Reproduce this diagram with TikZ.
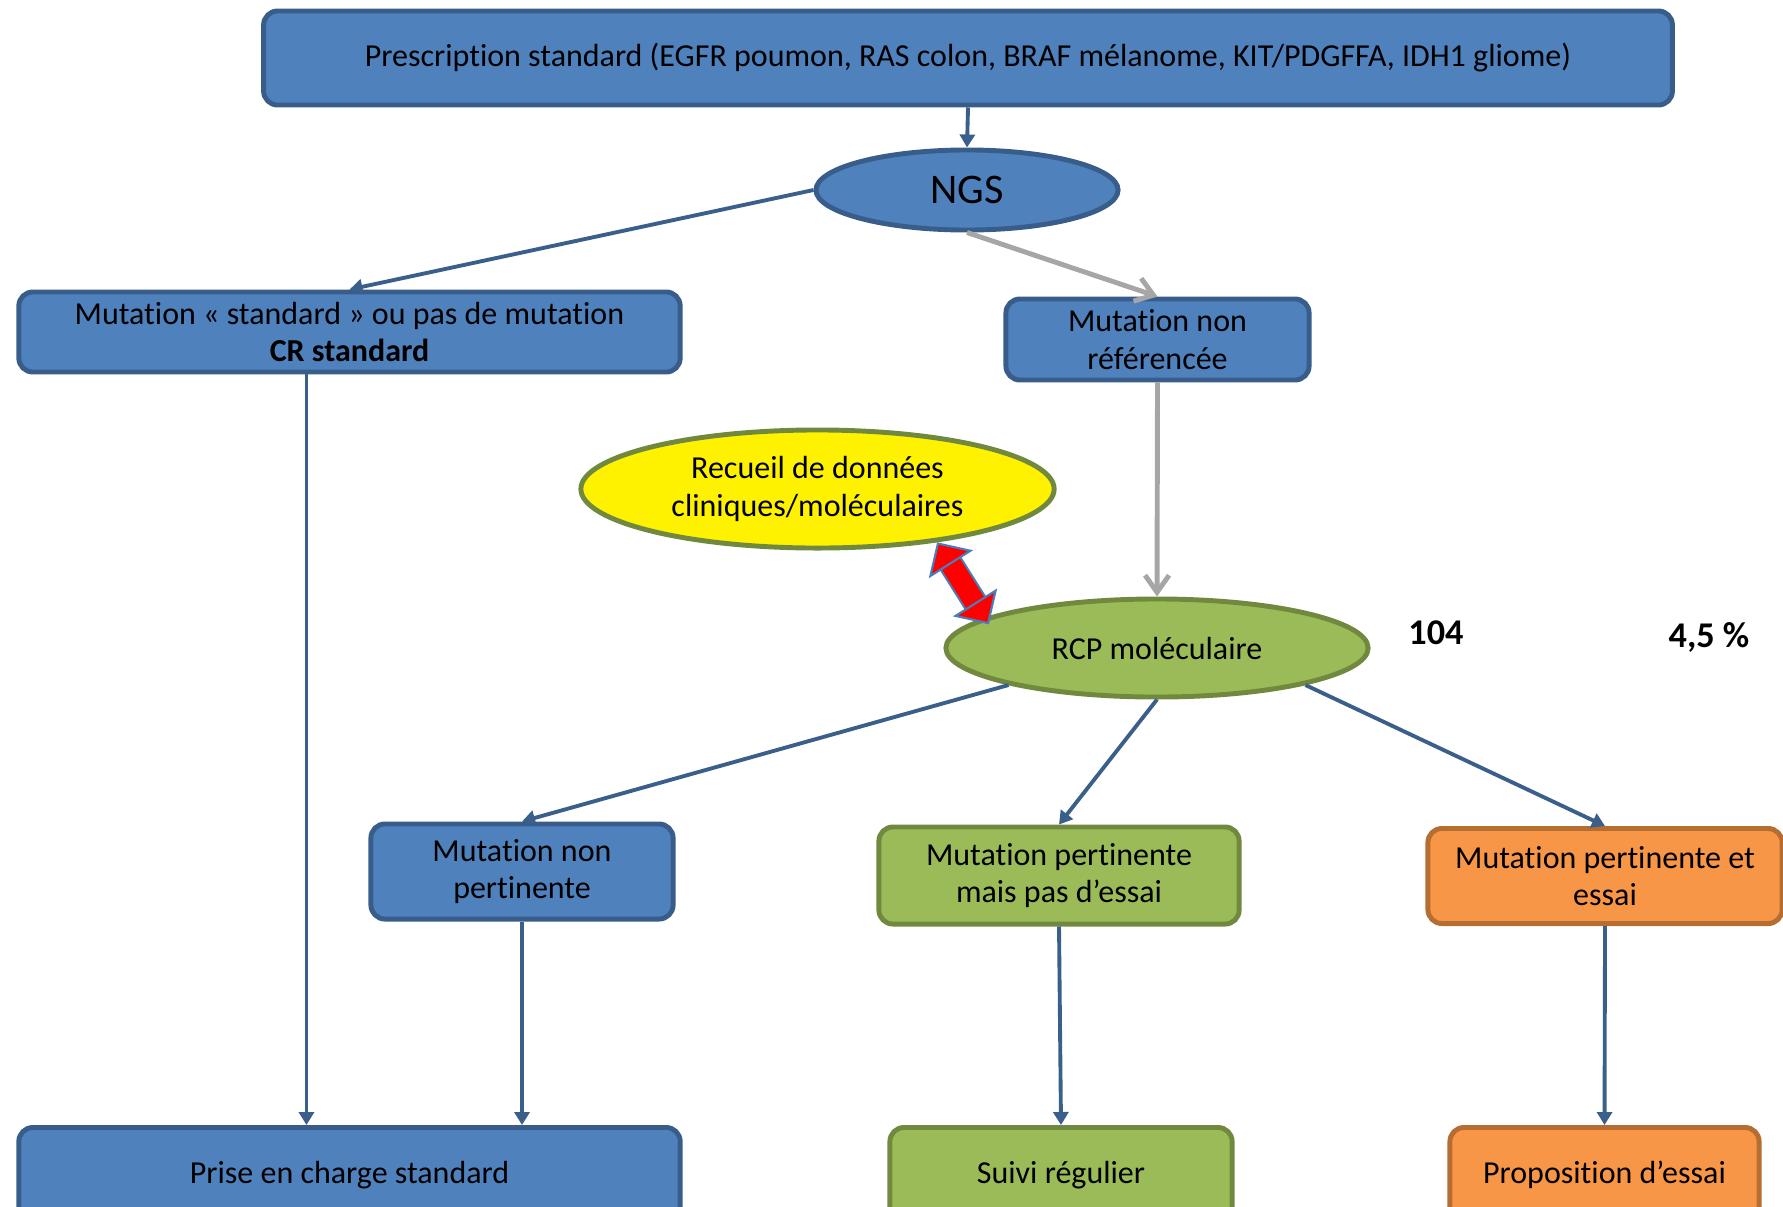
\documentclass[tikz,border=0pt]{standalone}
\usepackage{fontspec}
\setmainfont{Carlito}[Ligatures={NoCommon,NoContextual},RawFeature=-calt]
\usetikzlibrary{arrows.meta,shapes.geometric}
\definecolor{bfill}{HTML}{4F81BD}
\definecolor{bdraw}{HTML}{385D8A}
\definecolor{gfill}{HTML}{9BBB59}
\definecolor{gdraw}{HTML}{71893F}
\definecolor{ofill}{HTML}{F79646}
\definecolor{odraw}{HTML}{B66D31}
\definecolor{aline}{HTML}{3A5F8B}
\definecolor{gline}{HTML}{A6A6A6}
\definecolor{rline}{HTML}{4A7EBB}
\begin{document}
\begin{tikzpicture}[x=0.01cm,y=-0.01cm,
    box/.style={rounded corners=0.14cm,line width=1.4pt,inner sep=0pt,align=center},
    bbox/.style={box,fill=bfill,draw=bdraw},
    gbox/.style={box,fill=gfill,draw=gdraw},
    obox/.style={box,fill=ofill,draw=odraw},
    ell/.style={ellipse,line width=1.4pt,inner sep=0pt,align=center},
    arr/.style={-{Triangle[length=0.13cm,width=0.15cm]},line width=1.1pt,aline},
    garr/.style={-{Straight Barb[length=0.17cm,width=0.24cm]},line width=1.4pt,gline},
    redarr/.style={draw=rline,line width=0.6pt,double=red,double distance=0.21cm,shorten >=-0.08cm,
      {Triangle[length=0.26cm,width=0.52cm,fill=red]}-{Triangle[length=0.26cm,width=0.52cm,fill=red]}},
    num/.style={font=\fontsize{10.3}{12}\selectfont\bfseries},
    every node/.style={font=\fontsize{9.1}{10.6}\selectfont}]
  \useasboundingbox (0,0) rectangle (1783,1206);
  \clip (0,0) rectangle (1783,1206);
  % top
  \node[bbox,minimum width=14.08cm,minimum height=0.94cm] (presc) at (968,58)
    {Prescription standard (EGFR poumon, RAS colon, BRAF mélanome, KIT/PDGFFA, IDH1 gliome)};
  \node[ell,fill=bfill,draw=bdraw,minimum width=3.02cm,minimum height=0.8cm,
    font=\fontsize{12}{14}\selectfont] (ngs) at (967,190) {NGS};
  \node[bbox,minimum width=6.61cm,minimum height=0.8cm] (mstd) at (349.5,332)
    {Mutation « standard » ou pas de mutation\\\textbf{CR standard}};
  \node[bbox,minimum width=3.03cm,minimum height=0.81cm] (mnr) at (1157.5,339.5)
    {Mutation non\\référencée};
  % middle
  \node[ell,fill=yellow,draw=gdraw,minimum width=4.73cm,minimum height=1.18cm] (recueil)
    at (817.5,489) {Recueil de données\\cliniques/moléculaires};
  \node[ell,fill=gfill,draw=gdraw,minimum width=4.22cm,minimum height=0.98cm] (rcp)
    at (1157,648) {RCP moléculaire};
  \node[num] (n104) at (1436,633) {104};
  \node[num] (pct) at (1709,637) {4,5 \%};
  \node[bbox,minimum width=3.02cm,minimum height=0.95cm] (mnp) at (522,871.5)
    {Mutation non\\pertinente};
  \node[gbox,minimum width=3.6cm,minimum height=0.97cm] (mpp) at (1059,875.5)
    {Mutation pertinente\\mais pas d’essai};
  \node[obox,minimum width=3.54cm,minimum height=0.95cm] (mpe) at (1605,876)
    {Mutation pertinente et\\essai};
  % bottom
  \node[bbox,minimum width=6.61cm,minimum height=0.95cm] (prise) at (349.5,1175)
    {Prise en charge standard};
  \node[gbox,minimum width=3.42cm,minimum height=0.95cm] (suivi) at (1061,1175)
    {Suivi régulier};
  \node[obox,minimum width=3.09cm,minimum height=0.95cm] (prop) at (1604.5,1175)
    {Proposition d’essai};
  % connectors
  \draw[arr] (presc.south) -- (ngs.north);
  \draw[arr] (ngs.west) -- (mstd.north);
  \draw[garr] (ngs.south) -- (mnr.north);
  \draw[garr] (mnr.south) -- (rcp.north);
  \draw[redarr] (recueil.-24) -- (rcp.170);
  \draw[arr] ([xshift=-0.43cm]mstd.south) -- ([xshift=-0.43cm]prise.north);
  \draw[arr] (rcp.194) -- (mnp.north);
  \draw[arr] (rcp.south) -- (mpp.north);
  \draw[arr] (rcp.-14) -- (mpe.north);
  \draw[arr] (mnp.south) -- (mnp.south |- prise.north);
  \draw[arr] (mpp.south) -- (suivi.north);
  \draw[arr] (mpe.south) -- (prop.north);
\end{tikzpicture}
\end{document}
